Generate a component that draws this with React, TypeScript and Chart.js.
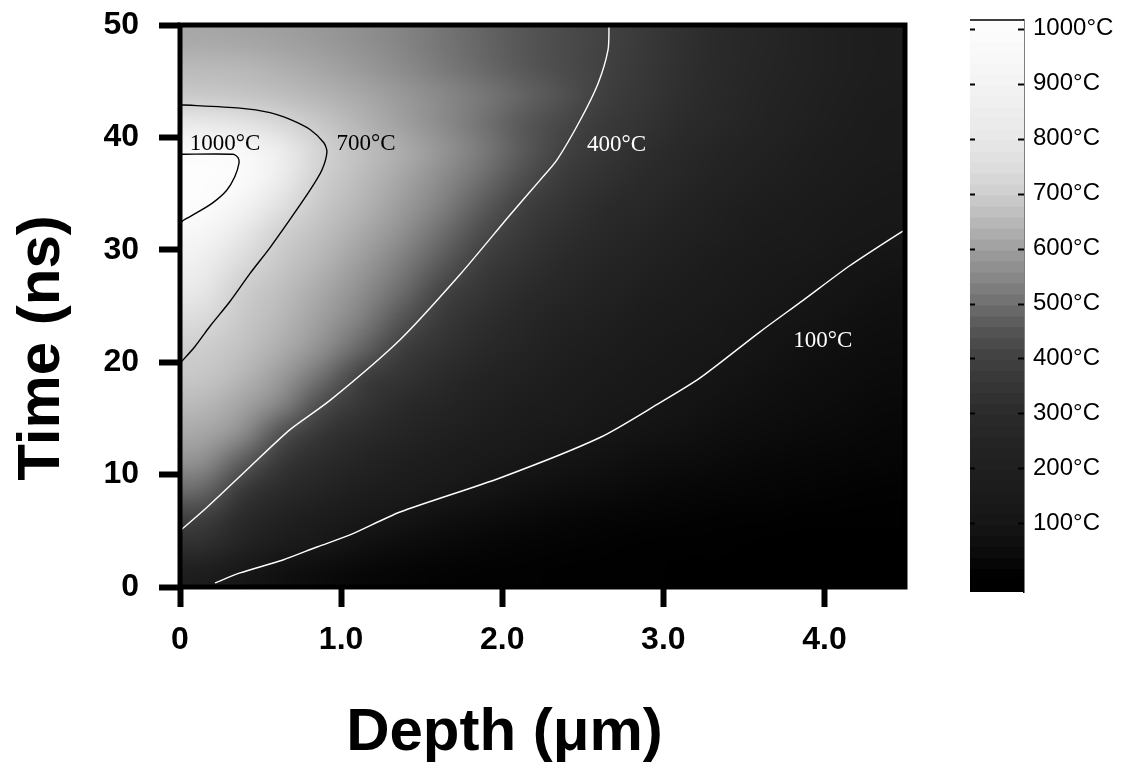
import React, { useEffect, useRef } from "react";
import { Chart, registerables } from "chart.js";

Chart.register(...registerables);

// ---------------- data ----------------
// depth (µm) of the centres of the heat-map columns
const DEPTH_UM = [0.125, 0.375, 0.625, 0.875, 1.125, 1.375, 1.625, 1.875, 2.125, 2.375, 2.625, 2.875, 3.125, 3.375, 3.625, 3.875, 4.125, 4.375];
// time (ns) of the centres of the heat-map rows
const TIME_NS = [1.25, 3.75, 6.25, 8.75, 11.25, 13.75, 16.25, 18.75, 21.25, 23.75, 26.25, 28.75, 31.25, 33.75, 36.25, 38.75, 41.25, 43.75, 46.25, 48.75];
// temperature (°C), one row per TIME_NS entry, one value per DEPTH_UM entry
const TEMPERATURE_C = [
  [180, 110, 70, 45, 30, 20, 14, 10, 7, 5, 4, 3, 2, 1, 1, 0, 0, 0],
  [320, 230, 160, 108, 75, 52, 36, 25, 17, 12, 8, 6, 4, 3, 2, 1, 1, 0],
  [400, 298, 224, 168, 126, 95, 71, 53, 40, 30, 22, 17, 13, 10, 7, 5, 4, 3],
  [490, 372, 300, 238, 189, 151, 120, 95, 76, 60, 48, 38, 30, 24, 19, 15, 12, 9],
  [570, 470, 360, 298, 245, 201, 165, 136, 112, 92, 75, 62, 51, 42, 34, 28, 23, 19],
  [615, 565, 440, 350, 296, 248, 208, 175, 147, 123, 103, 87, 73, 61, 51, 43, 36, 30],
  [650, 610, 540, 425, 348, 294, 249, 210, 178, 150, 127, 107, 91, 77, 65, 55, 46, 39],
  [680, 645, 590, 500, 392, 339, 288, 245, 207, 176, 149, 127, 108, 91, 77, 66, 56, 47],
  [695, 670, 625, 565, 480, 385, 330, 281, 239, 203, 173, 147, 125, 107, 91, 77, 66, 56],
  [740, 685, 645, 595, 530, 445, 365, 314, 268, 229, 196, 167, 143, 122, 104, 89, 76, 65],
  [800, 695, 660, 615, 560, 490, 405, 345, 300, 257, 221, 190, 163, 140, 120, 103, 89, 76],
  [860, 740, 680, 640, 590, 525, 455, 375, 330, 286, 247, 214, 185, 160, 138, 119, 103, 89],
  [920, 800, 698, 660, 615, 560, 490, 420, 360, 315, 277, 241, 211, 184, 160, 140, 122, 106],
  [1000, 900, 760, 680, 640, 590, 530, 460, 392, 340, 300, 263, 231, 203, 178, 156, 137, 120],
  [1030, 990, 830, 698, 655, 610, 555, 495, 430, 370, 325, 290, 255, 225, 198, 174, 153, 135],
  [985, 960, 850, 712, 665, 625, 575, 520, 460, 400, 350, 313, 277, 245, 216, 191, 169, 150],
  [810, 780, 730, 680, 640, 600, 555, 505, 455, 415, 370, 335, 297, 263, 232, 205, 181, 160],
  [685, 675, 660, 640, 615, 585, 550, 515, 478, 440, 392, 350, 312, 277, 245, 217, 192, 170],
  [650, 645, 630, 610, 585, 555, 520, 487, 455, 425, 400, 358, 318, 283, 251, 222, 197, 175],
  [615, 610, 600, 585, 565, 540, 510, 480, 452, 425, 403, 362, 322, 287, 255, 226, 200, 178],
];

// isotherms: [depth µm, time ns]
const CONTOUR_1000 = [[0, 38.5], [0.33, 38.5], [0.36, 38.2], [0.366, 37.7], [0.34, 36.5], [0.29, 35.3], [0.205, 34.2], [0.105, 33.3], [0.03, 32.7], [0, 32.4]];
const CONTOUR_700 = [[0, 42.9], [0.372, 42.6], [0.559, 42.2], [0.683, 41.6], [0.807, 40.7], [0.894, 39.5], [0.912, 38.7], [0.881, 37.1], [0.807, 35.3], [0.683, 32.7], [0.559, 30.2], [0.435, 27.9], [0.31, 25.4], [0.186, 23.2], [0.093, 21.4], [0, 19.9]];
const CONTOUR_400 = [[0, 5.0], [0.168, 7.1], [0.435, 10.7], [0.683, 14.0], [0.931, 16.6], [1.366, 22.0], [1.738, 27.8], [2.048, 33.1], [2.235, 36.2], [2.34, 38.0], [2.483, 41.5], [2.595, 44.8], [2.657, 47.8], [2.663, 50]];
const CONTOUR_100 = [[0.217, 0.36], [0.372, 1.25], [0.639, 2.4], [0.85, 3.56], [1.055, 4.63], [1.366, 6.67], [1.986, 9.7], [2.607, 13.3], [2.98, 16.4], [3.228, 18.6], [3.6, 22.7], [3.867, 25.5], [4.159, 28.6], [4.5, 31.8]];

const CONTOUR_LABELS = ["1000°C", "700°C", "400°C", "100°C"];
const CONTOUR_LABEL_DEPTH = [0.28, 1.155, 2.71, 3.99];
const CONTOUR_LABEL_TIME = [39.4, 39.4, 39.3, 21.9];

const X_TICK_VALUES = [0, 1, 2, 3, 4];
const X_TICK_LABELS = ["0", "1.0", "2.0", "3.0", "4.0"];
const Y_TICK_VALUES = [0, 10, 20, 30, 40, 50];
const Y_TICK_LABELS = ["0", "10", "20", "30", "40", "50"];
const CB_TICK_VALUES = [100, 200, 300, 400, 500, 600, 700, 800, 900, 1000];
const CB_TICK_LABELS = ["100°C", "200°C", "300°C", "400°C", "500°C", "600°C", "700°C", "800°C", "900°C", "1000°C"];

// grey colour map (temperature -> grey level)
const MAP_T = [0, 50, 100, 200, 300, 400, 450, 500, 550, 600, 650, 700, 750, 800, 900, 1000, 1100];
const MAP_GREY = [0, 12, 22, 31, 43, 65, 85, 112, 137, 160, 185, 208, 222, 232, 244, 252, 255];

const X_TITLE = "Depth (μm)";
const Y_TITLE = "Time (ns)";

// ---------------- style ----------------
const SANS = "'Liberation Sans', Arial, Helvetica, sans-serif";
const SERIF = "'Liberation Serif', 'Times New Roman', serif";
const W = 1127;
const H = 763;

function greyLevel(t: number): number {
  if (t <= MAP_T[0]) return MAP_GREY[0];
  for (let i = 0; i < MAP_T.length - 1; i++) {
    if (t >= MAP_T[i] && t <= MAP_T[i + 1]) {
      const f = (t - MAP_T[i]) / (MAP_T[i + 1] - MAP_T[i]);
      return MAP_GREY[i] + f * (MAP_GREY[i + 1] - MAP_GREY[i]);
    }
  }
  return MAP_GREY[MAP_GREY.length - 1];
}
function grey(t: number): string {
  const v = Math.round(greyLevel(t));
  return `rgb(${v},${v},${v})`;
}

// heat map: one image pixel per data cell, placed on the chart through the scales
const heatmapPlugin = {
  id: "heatmap",
  beforeDatasetsDraw(chart: any) {
    const { ctx, chartArea, scales } = chart;
    const xs = scales.x;
    const ys = scales.y;
    const nx = DEPTH_UM.length;
    const ny = TIME_NS.length;
    const img = document.createElement("canvas");
    img.width = nx;
    img.height = ny;
    const ictx = img.getContext("2d") as CanvasRenderingContext2D;
    const id = ictx.createImageData(nx, ny);
    for (let j = 0; j < ny; j++) {
      const row = ny - 1 - j; // top row of the image = latest time
      for (let i = 0; i < nx; i++) {
        const g = Math.round(greyLevel(TEMPERATURE_C[j][i]));
        const k = (row * nx + i) * 4;
        id.data[k] = g;
        id.data[k + 1] = g;
        id.data[k + 2] = g;
        id.data[k + 3] = 255;
      }
    }
    ictx.putImageData(id, 0, 0);
    const halfX = (DEPTH_UM[1] - DEPTH_UM[0]) / 2;
    const halfT = (TIME_NS[1] - TIME_NS[0]) / 2;
    const x0 = xs.getPixelForValue(DEPTH_UM[0] - halfX);
    const x1 = xs.getPixelForValue(DEPTH_UM[nx - 1] + halfX);
    const y0 = ys.getPixelForValue(TIME_NS[ny - 1] + halfT);
    const y1 = ys.getPixelForValue(TIME_NS[0] - halfT);
    ctx.save();
    ctx.beginPath();
    ctx.rect(chartArea.left, chartArea.top, chartArea.right - chartArea.left, chartArea.bottom - chartArea.top);
    ctx.clip();
    ctx.imageSmoothingEnabled = true;
    (ctx as any).imageSmoothingQuality = "high";
    ctx.drawImage(img, x0, y0, x1 - x0, y1 - y0);
    ctx.restore();
  },
  afterDatasetsDraw(chart: any) {
    const { ctx, chartArea, scales } = chart;
    ctx.save();
    ctx.font = `23px ${SERIF}`;
    ctx.textAlign = "center";
    ctx.textBaseline = "middle";
    for (let k = 0; k < CONTOUR_LABELS.length; k++) {
      ctx.fillStyle = k < 2 ? "#000" : "#fff";
      ctx.fillText(CONTOUR_LABELS[k], scales.x.getPixelForValue(CONTOUR_LABEL_DEPTH[k]), scales.y.getPixelForValue(CONTOUR_LABEL_TIME[k]));
    }
    ctx.strokeStyle = "#000";
    ctx.lineWidth = 5;
    ctx.strokeRect(chartArea.left, chartArea.top, chartArea.right - chartArea.left, chartArea.bottom - chartArea.top);
    ctx.restore();
  },
  afterDraw(chart: any) {
    const { ctx, chartArea } = chart;
    ctx.save();
    ctx.fillStyle = "#000";
    ctx.font = `bold 60px ${SANS}`;
    ctx.textAlign = "center";
    ctx.textBaseline = "alphabetic";
    ctx.fillText(X_TITLE, (chartArea.left + chartArea.right) / 2 - 38, 750);
    ctx.translate(59, (chartArea.top + chartArea.bottom) / 2 + 42);
    ctx.rotate(-Math.PI / 2);
    ctx.fillText(Y_TITLE, 0, 0);
    ctx.restore();
  },
};

const colorbarPlugin = {
  id: "colorbarFrame",
  afterDraw(chart: any) {
    const { ctx, chartArea, scales } = chart;
    ctx.save();
    ctx.strokeStyle = "#000";
    ctx.lineWidth = 1.5;
    ctx.beginPath();
    ctx.moveTo(chartArea.left, chartArea.top);
    ctx.lineTo(chartArea.right, chartArea.top);
    ctx.stroke();
    ctx.lineWidth = 2;
    for (const v of [0, ...CB_TICK_VALUES]) {
      const y = Math.round(scales.y.getPixelForValue(v)) + 0.5;
      ctx.beginPath();
      ctx.moveTo(chartArea.left, y);
      ctx.lineTo(chartArea.left + 5, y);
      ctx.moveTo(chartArea.right - 6, y);
      ctx.lineTo(chartArea.right, y);
      ctx.stroke();
    }
    ctx.restore();
  },
};

const CB_MIN = -25;
const CB_MAX = 1016;
const CB_STEP = 20;

export default function App() {
  const mainRef = useRef<HTMLCanvasElement | null>(null);
  const cbRef = useRef<HTMLCanvasElement | null>(null);

  useEffect(() => {
    document.body.style.margin = "0";
    document.body.style.background = "#fff";
    const contours = [
      { pts: CONTOUR_1000, color: "#000" },
      { pts: CONTOUR_700, color: "#000" },
      { pts: CONTOUR_400, color: "#fff" },
      { pts: CONTOUR_100, color: "#fff" },
    ];
    const main = new Chart(mainRef.current as HTMLCanvasElement, {
      type: "scatter",
      data: {
        datasets: contours.map((c) => ({
          data: c.pts.map(([x, y]) => ({ x, y })),
          showLine: true,
          borderColor: c.color,
          borderWidth: 1.4,
          pointRadius: 0,
          tension: 0.25,
          fill: false,
        })),
      },
      options: {
        animation: false,
        responsive: false,
        events: [],
        layout: { autoPadding: false, padding: { top: 25, right: W - 905, bottom: 0, left: 0 } },
        plugins: { legend: { display: false }, tooltip: { enabled: false } },
        scales: {
          x: {
            type: "linear",
            min: 0,
            max: 4.5,
            afterFit: (s: any) => {
              s.height = H - 587;
              s.paddingLeft = 0;
              s.paddingRight = 0;
            },
            afterBuildTicks: (s: any) => {
              s.ticks = X_TICK_VALUES.map((v) => ({ value: v }));
            },
            ticks: {
              autoSkip: false,
              maxRotation: 0,
              padding: 14,
              color: "#000",
              font: { family: SANS, size: 32, weight: "bold" },
              callback: (v: any) => X_TICK_LABELS[X_TICK_VALUES.indexOf(Number(v))] ?? "",
            },
            grid: { drawOnChartArea: false, tickLength: 20, tickWidth: 6, tickColor: "#000" },
            border: { display: false },
          },
          y: {
            type: "linear",
            min: 0,
            max: 50,
            afterFit: (s: any) => {
              s.width = 180;
              s.paddingTop = 0;
              s.paddingBottom = 0;
            },
            afterBuildTicks: (s: any) => {
              s.ticks = Y_TICK_VALUES.map((v) => ({ value: v }));
            },
            ticks: {
              autoSkip: false,
              padding: 20,
              color: "#000",
              font: { family: SANS, size: 32, weight: "bold" },
              callback: (v: any) => Y_TICK_LABELS[Y_TICK_VALUES.indexOf(Number(v))] ?? "",
            },
            grid: { drawOnChartArea: false, tickLength: 21, tickWidth: 6, tickColor: "#000" },
            border: { display: false },
          },
        },
      } as any,
      plugins: [heatmapPlugin],
    });

    const bands: { lo: number; hi: number }[] = [];
    for (let t = CB_MIN; t < CB_MAX; t += CB_STEP) bands.push({ lo: t, hi: Math.min(t + CB_STEP, CB_MAX) });
    const cb = new Chart(cbRef.current as HTMLCanvasElement, {
      type: "bar",
      data: {
        labels: ["T"],
        datasets: bands.map((b) => ({
          data: [[b.lo, b.hi + 1]] as any,
          backgroundColor: grey((b.lo + b.hi) / 2),
          borderWidth: 0,
          grouped: false,
          barPercentage: 1,
          categoryPercentage: 1,
        })),
      },
      options: {
        animation: false,
        responsive: false,
        events: [],
        layout: { autoPadding: false, padding: { top: 20, bottom: H - 592, left: 30, right: 0 } },
        plugins: { legend: { display: false }, tooltip: { enabled: false } },
        scales: {
          x: { display: false },
          y: {
            position: "right",
            min: CB_MIN,
            max: CB_MAX,
            afterFit: (s: any) => {
              s.width = 103;
              s.paddingTop = 0;
              s.paddingBottom = 0;
            },
            afterBuildTicks: (s: any) => {
              s.ticks = CB_TICK_VALUES.map((v) => ({ value: v }));
            },
            ticks: {
              padding: 9,
              color: "#000",
              font: { family: SANS, size: 24 },
              callback: (v: any) => CB_TICK_LABELS[CB_TICK_VALUES.indexOf(Number(v))] ?? "",
            },
            grid: { drawOnChartArea: false, drawTicks: false },
            border: { display: true, color: "#000", width: 1.5 },
          },
        },
      } as any,
      plugins: [colorbarPlugin],
    });

    return () => {
      main.destroy();
      cb.destroy();
    };
  }, []);

  return (
    <div style={{ position: "relative", width: W, height: H, background: "#fff" }}>
      <canvas ref={mainRef} width={W} height={H} style={{ position: "absolute", left: 0, top: 0, width: W, height: H }} />
      <canvas ref={cbRef} width={187} height={H} style={{ position: "absolute", left: 940, top: 0, width: 187, height: H }} />
    </div>
  );
}
